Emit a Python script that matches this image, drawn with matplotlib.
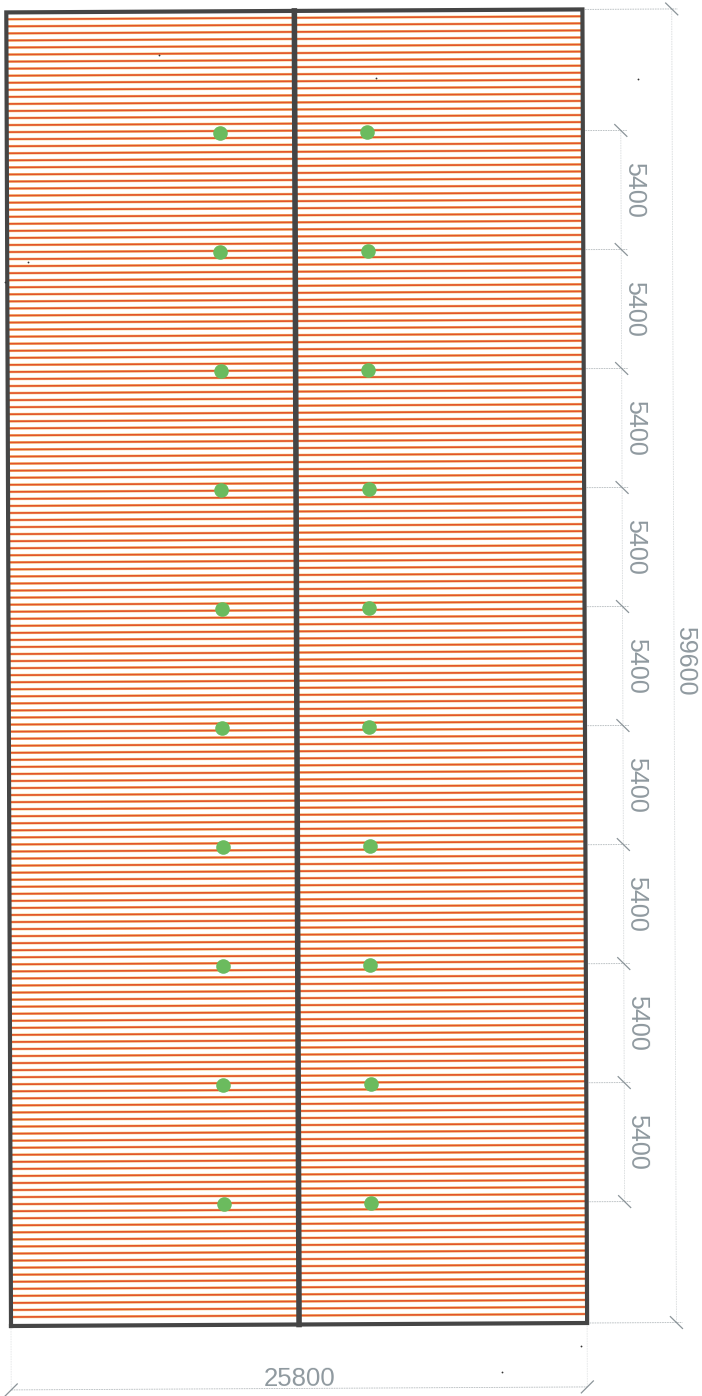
#### Roof plan with purlin strips, column points and dimension chains ####
import matplotlib
matplotlib.use('Agg')
import matplotlib.pyplot as plt
from matplotlib.collections import LineCollection
from matplotlib.transforms import Affine2D

# plan data, mm from the bottom left corner
plan_width = 25800
plan_height = 59600
ridge_x = 12900
column_x = [9550, 16150]
column_y = [5500, 10900, 16300, 21700, 27100, 32500, 37900, 43300, 48700, 54100]
chain_y = [5500, 10900, 16300, 21700, 27100, 32500, 37900, 43300, 48700, 54100]
chain_labels = ['5400', '5400', '5400', '5400', '5400', '5400', '5400', '5400', '5400']
total_h_label = '59600'
total_w_label = '25800'
strip_y = [408, 728, 1048, 1368, 1688, 2008, 2328, 2648, 2968, 3288,
           3608, 3928, 4248, 4568, 4888, 5208, 5528, 5848, 6168, 6488,
           6808, 7128, 7448, 7768, 8088, 8408, 8728, 9048, 9368, 9688,
           10008, 10328, 10648, 10968, 11288, 11608, 11928, 12248, 12568, 12888,
           13208, 13528, 13848, 14168, 14488, 14808, 15128, 15448, 15768, 16088,
           16408, 16728, 17048, 17368, 17688, 18008, 18328, 18648, 18968, 19288,
           19608, 19928, 20248, 20568, 20888, 21208, 21528, 21848, 22168, 22488,
           22808, 23128, 23448, 23768, 24088, 24408, 24728, 25048, 25368, 25688,
           26008, 26328, 26648, 26968, 27288, 27608, 27928, 28248, 28568, 28888,
           29208, 29528, 29848, 30168, 30488, 30808, 31128, 31448, 31768, 32088,
           32408, 32728, 33048, 33368, 33688, 34008, 34328, 34648, 34968, 35288,
           35608, 35928, 36248, 36568, 36888, 37208, 37528, 37848, 38168, 38488,
           38808, 39128, 39448, 39768, 40088, 40408, 40728, 41048, 41368, 41688,
           42008, 42328, 42648, 42968, 43288, 43608, 43928, 44248, 44568, 44888,
           45208, 45528, 45848, 46168, 46488, 46808, 47128, 47448, 47768, 48088,
           48408, 48728, 49048, 49368, 49688, 50008, 50328, 50648, 50968, 51288,
           51608, 51928, 52248, 52568, 52888, 53208, 53528, 53848, 54168, 54488,
           54808, 55128, 55448, 55768, 56088, 56408, 56728, 57048, 57368, 57688,
           58008, 58328, 58648, 58968, 59288]

# specks from the scan, in pixels
dust_x = [159, 638, 581, 502, 376, 28, 5]
dust_y = [55, 79, 1346, 1372, 78, 262, 282]

wall = '#454545'
dim = '#b4babd'
label = '#8f999f'
font = ['Liberation Sans Narrow', 'Liberation Sans']

fig = plt.figure(figsize=(7.02, 13.96), dpi=100)
ax = fig.add_axes([0, 0, 1, 1])
ax.set_xlim(0, 702)
ax.set_ylim(1396, 0)
ax.axis('off')

# the sheet was scanned a little crooked: plan mm to image pixels
sheet = Affine2D.from_values(0.02233, -0.000116, -0.0000789, -0.02204, 11, 1326) + ax.transData

# strips, yellow fringe under a red core
segs = []
for y in strip_y:
    segs.append([(0, y), (ridge_x, y)])
    segs.append([(ridge_x, y), (plan_width, y)])
ax.add_collection(LineCollection(segs, colors='#f6c97a', linewidths=1.9, transform=sheet, zorder=1))
ax.add_collection(LineCollection(segs, colors='#e2552c', linewidths=1.2, transform=sheet, zorder=2))

# walls
ax.plot([0, plan_width, plan_width, 0, 0], [0, 0, plan_height, plan_height, 0], color=wall,
        lw=3.0, solid_joinstyle='miter', transform=sheet, zorder=3)
ax.plot([ridge_x, ridge_x], [0, plan_height], color=wall, lw=4.0, transform=sheet, zorder=3)

# columns
for x in column_x:
    ax.plot([x]*len(column_y), column_y, ls='none', marker='o', ms=10.5, mfc='#6bbb5e', mec='none',
            transform=sheet, zorder=4)

# dimension chains
chain_x = 27500
total_x = 29800
total_y = -2900
tick = 270


def dimline(xs, ys, alpha=1.0):
    ax.plot(xs, ys, color=dim, lw=0.6, ls=(0, (2, 1)), alpha=alpha, transform=sheet, zorder=1)


def slash(x, y, sign):
    ax.plot([x-tick, x+tick], [y-sign*tick, y+sign*tick], color='#8b9499', lw=0.9, transform=sheet, zorder=1)


dimline([chain_x, chain_x], [chain_y[0], chain_y[-1]], 0.5)
for y in chain_y:
    dimline([plan_width, chain_x+tick], [y, y])
    slash(chain_x, y, -1)
for k, txt in enumerate(chain_labels):
    ax.text(28080, (chain_y[k]+chain_y[k+1])/2, txt, rotation=-89.8, rotation_mode='anchor', ha='center', va='center',
            fontsize=18, color=label, family=font, transform=sheet, zorder=5)

dimline([total_x, total_x], [0, plan_height], 0.5)
for y in [0, plan_height]:
    dimline([plan_width, total_x+tick], [y, y])
    slash(total_x, y, -1)
ax.text(30290, 30000, total_h_label, rotation=-89.8, rotation_mode='anchor', ha='center', va='center',
        fontsize=18, color=label, family=font, transform=sheet, zorder=5)

dimline([0, plan_width], [total_y, total_y])
for x in [0, plan_width]:
    dimline([x, x], [0, total_y], 0.35)
    slash(x, total_y, 1)
ax.text(ridge_x, -2470, total_w_label, rotation=0.2, rotation_mode='anchor', ha='center', va='center',
        fontsize=18.5, color=label, family=font, transform=sheet, zorder=5)

ax.plot(dust_x, dust_y, ls='none', marker='o', ms=1.3, mfc='#333333', mec='none', zorder=6)

fig.savefig('out.png', dpi=100)
